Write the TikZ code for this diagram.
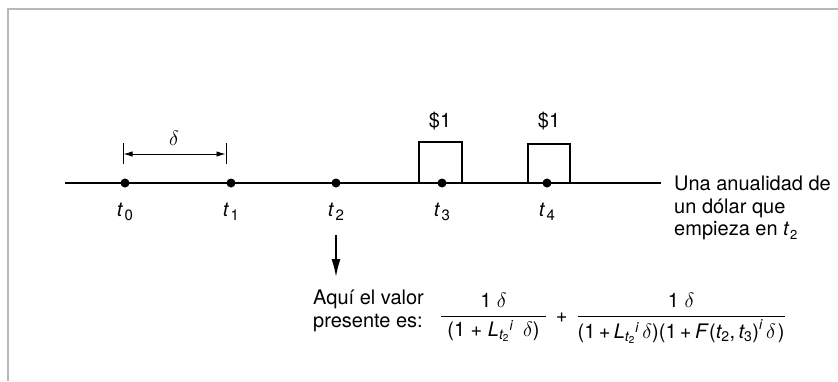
\documentclass[tikz,border=0pt]{standalone}
\usepackage{amsmath}
\usepackage{fontspec}
\setmainfont{TeX Gyre Heros}
\usetikzlibrary{arrows.meta}
\newcommand{\tsub}[1]{\textit{t}\kern1.5pt\raisebox{-4.5pt}{\fontsize{15}{15}\selectfont #1}}
\newcommand{\tsmall}[1]{\textit{t}\kern0.5pt\raisebox{-4pt}{\fontsize{13}{13}\selectfont #1}}
\tikzset{
  dot/.style={circle,fill=black,inner sep=0pt,minimum size=9pt},
  lbl/.style={inner sep=0pt,font=\fontsize{20}{22.5}\selectfont},
  frameline/.style={draw=black!28,line width=2pt},
  axisline/.style={line width=1.2pt},
  boxline/.style={line width=1.2pt},
  tickline/.style={line width=0.9pt},
}
\begin{document}
\begin{tikzpicture}[x=1pt,y=-1pt]
\useasboundingbox (0,0) rectangle (838,381);
% frame
\coordinate (fTL) at (8,9);
\coordinate (fTR) at (838,9);
\coordinate (fBL) at (8,381);
\draw[frameline] (fTR) -- (fTL) -- (fBL);
% axis
\coordinate (axL) at (65,183);
\coordinate (axR) at (661,183);
\draw[axisline] (axL) -- (axR);
% boxes
\coordinate (b1a) at (419,183); \coordinate (b1b) at (419,142);
\coordinate (b1c) at (462,142); \coordinate (b1d) at (462,183);
\coordinate (b2a) at (528,183); \coordinate (b2b) at (528,144);
\coordinate (b2c) at (570,144); \coordinate (b2d) at (570,183);
\draw[boxline] (b1a) -- (b1b) -- (b1c) -- (b1d);
\draw[boxline] (b2a) -- (b2b) -- (b2c) -- (b2d);
% dots
\node[dot] (t0) at (125,183) {};
\node[dot] (t1) at (231,183) {};
\node[dot] (t2) at (336,183) {};
\node[dot] (t3) at (442,183) {};
\node[dot] (t4) at (547,183) {};
% t labels
\node[lbl,anchor=base] (l0) at (125,216) {\tsub{0}};
\node[lbl,anchor=base] (l1) at (231,216) {\tsub{1}};
\node[lbl,anchor=base] (l2) at (336,216) {\tsub{2}};
\node[lbl,anchor=base] (l3) at (442,216) {\tsub{3}};
\node[lbl,anchor=base] (l4) at (547,216) {\tsub{4}};
% dollar labels
\node[lbl,anchor=base] (d3) at (440,127) {\$1};
\node[lbl,anchor=base] (d4) at (549,127) {\$1};
% delta interval
\coordinate (tkAt) at (123,143); \coordinate (tkAb) at (123,164);
\coordinate (tkBt) at (226,143); \coordinate (tkBb) at (226,164);
\draw[tickline] (tkAt) -- (tkAb);
\draw[tickline] (tkBt) -- (tkBb);
\coordinate (dA) at (123.5,154);
\coordinate (dB) at (225.5,154);
\draw[tickline,{Latex[length=9pt,width=5.5pt]}-{Latex[length=9pt,width=5.5pt]}] (dA) -- (dB);
\node[lbl,anchor=base] (delta) at (174,145) {$\delta$};
% right text
\node[lbl,anchor=north west,align=left] (annu) at (674,176)
  {Una anualidad de\\un dólar que\\empieza en \tsmall{2}};
% down arrow
\coordinate (arS) at (336,235);
\coordinate (arE) at (336,277);
\draw[line width=1.6pt,-{Latex[length=18pt,width=9pt]}] (arS) -- (arE);
% present value
\node[lbl,anchor=north west,align=left] (aqui) at (313,290)
  {Aquí el valor\\presente es:};
\node[inner sep=0pt,anchor=base west,font=\fontsize{20}{22}\selectfont] (formula) at (440,322)
  {$\dfrac{\text{1 }\delta}{\hspace{6pt}\text{(1 + }\textit{L}_{\textit{t}_{\text{2}}}{}^{\textit{i}}\hspace{10pt}\delta\text{)}\hspace{6pt}}
   \hspace{9pt}\text{+}\hspace{9pt}
   \dfrac{\text{1 }\delta}{\text{(1\,+\,}\textit{L}_{\textit{t}_{\text{2}}}{}^{\textit{i}}\,\delta\text{)(1\,+\,}\textit{F}\hspace{2pt}\text{(}\textit{t}_{\text{2}}\text{,\,}\textit{t}_{\text{3}}\text{)}^{\textit{i}}\,\delta\hspace{2pt}\text{)}}$};
\end{tikzpicture}
\end{document}
